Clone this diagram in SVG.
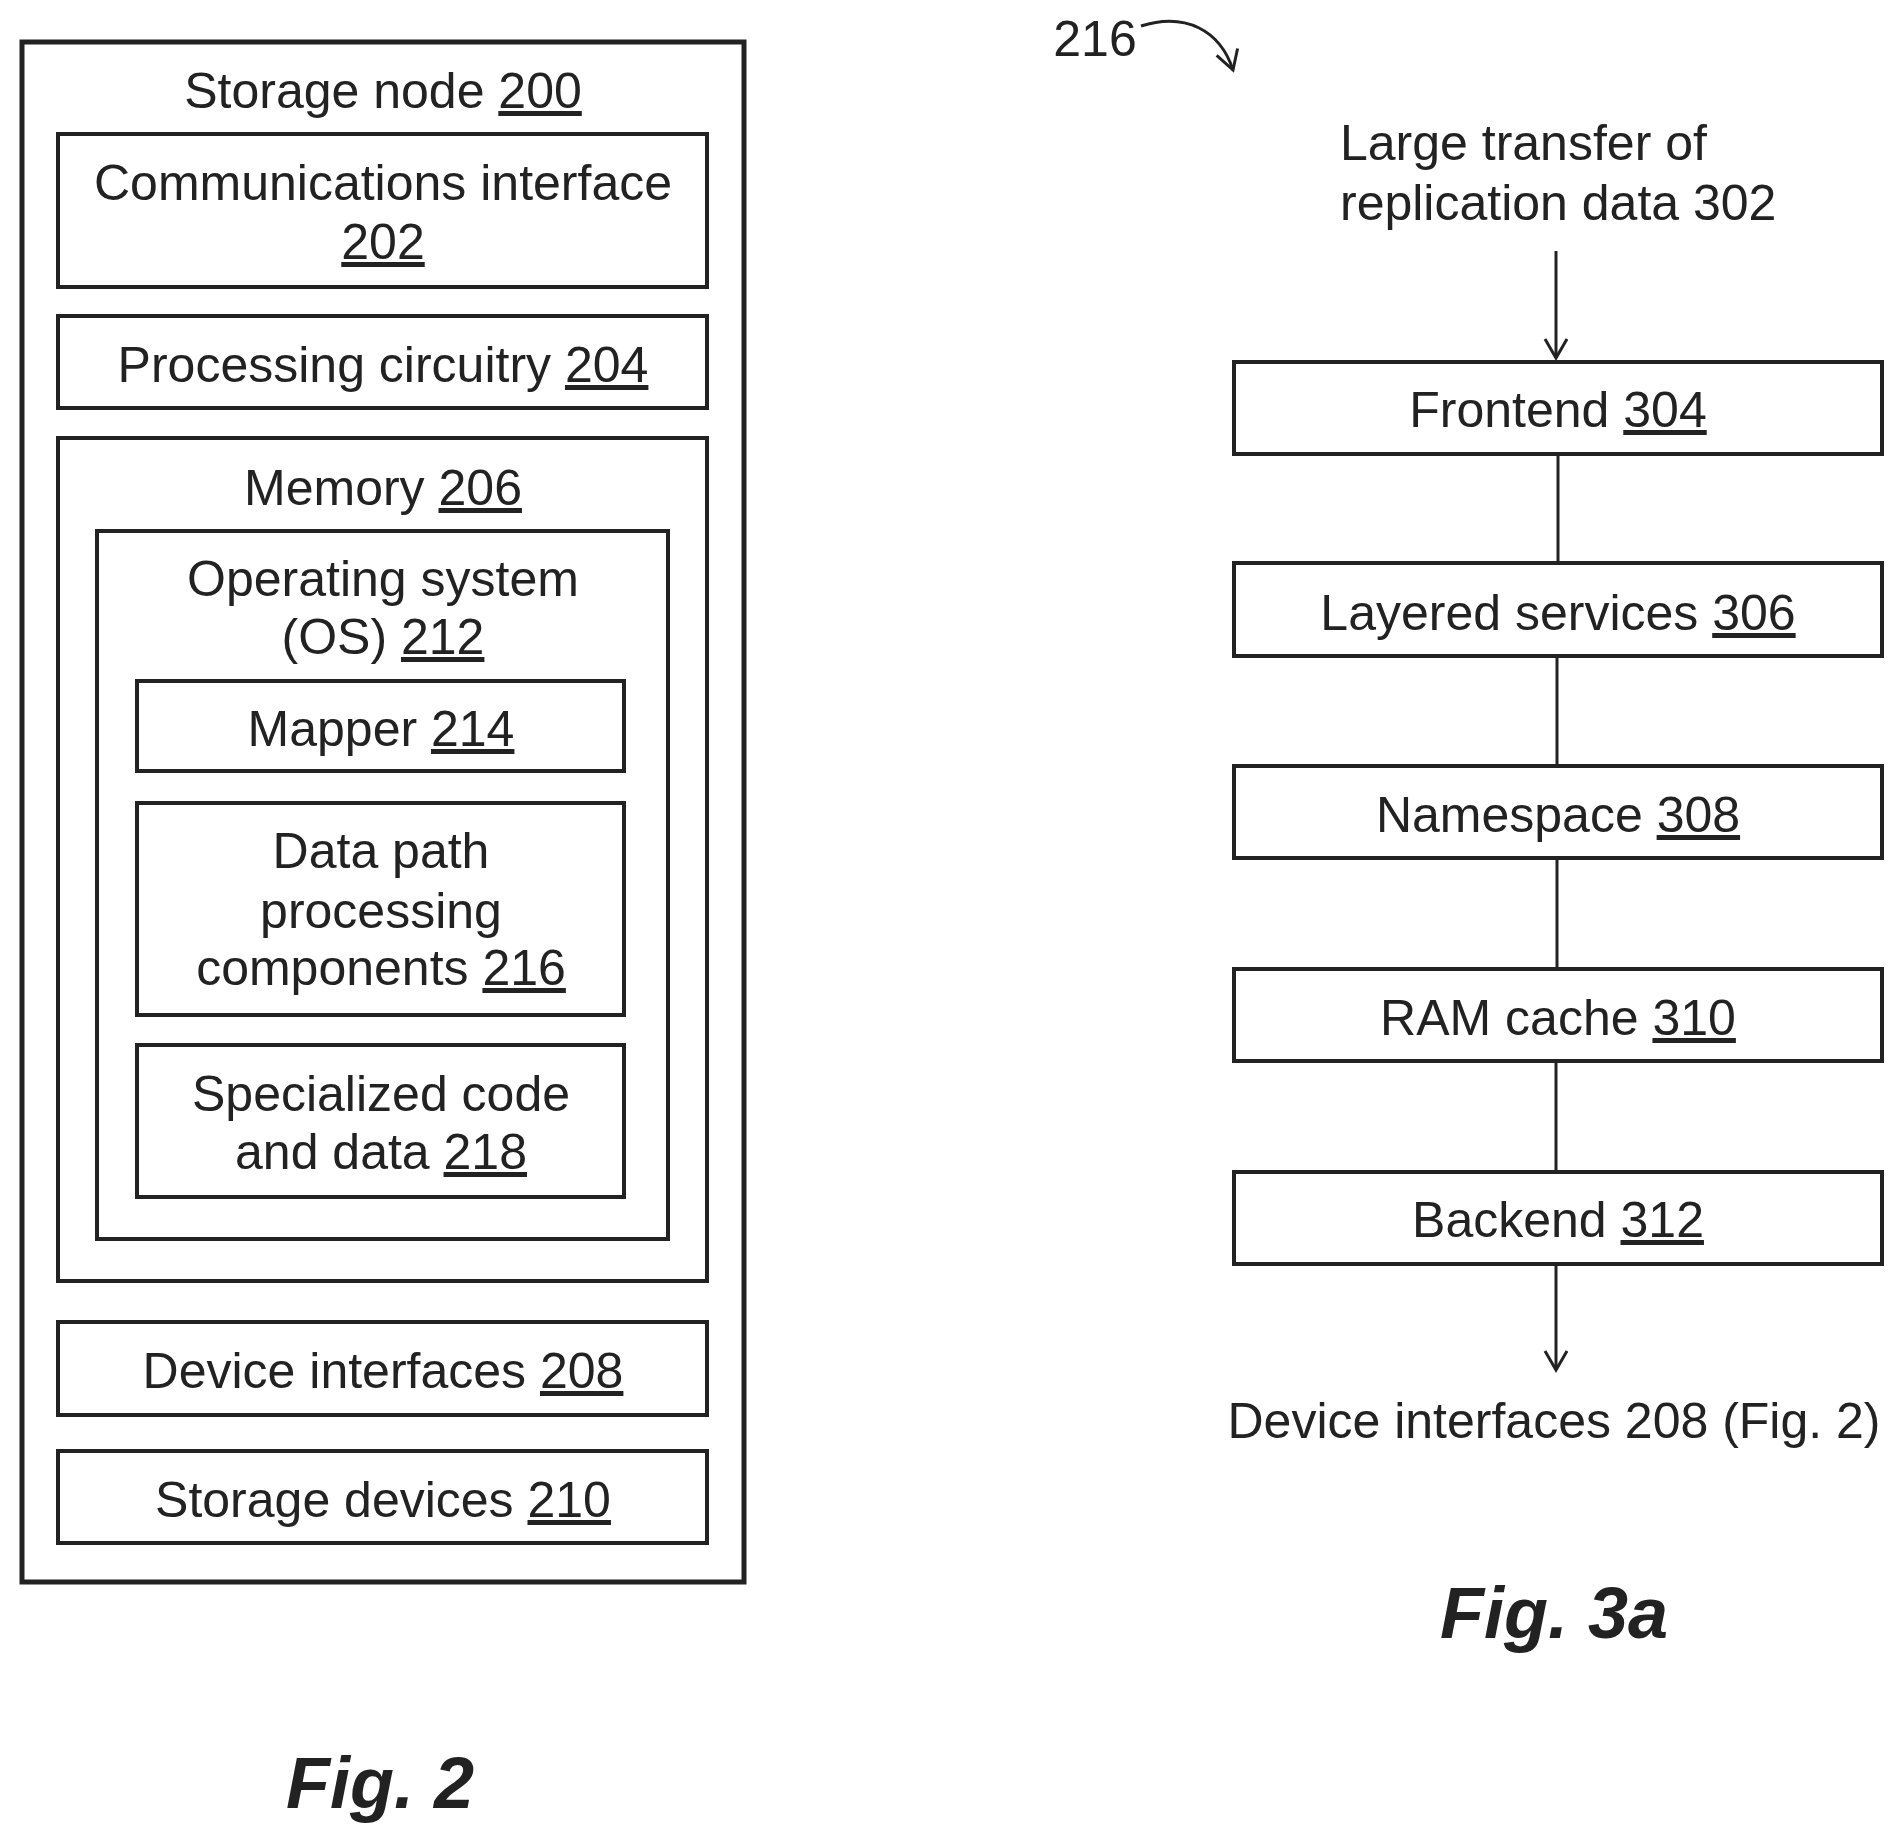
<svg xmlns="http://www.w3.org/2000/svg" width="1904" height="1847" viewBox="0 0 1904 1847">
<style>
rect{fill:none;stroke:#222;stroke-width:4}
text{font-family:"Liberation Sans",Arial,sans-serif;font-size:50px;fill:#222;text-anchor:middle}
.u{text-decoration:underline}
.fig{font-weight:bold;font-style:italic;font-size:72px}
.c{stroke:#222;stroke-width:3;fill:none}
</style>
<defs><marker id="a" markerWidth="26" markerHeight="26" refX="22" refY="12" orient="auto" markerUnits="userSpaceOnUse"><path d="M3,1 L22,12 L3,23" fill="none" stroke="#222" stroke-width="3"/></marker></defs>
<g id="n200"><rect x="22" y="42" width="722" height="1540" style="stroke-width:5"/><text x="383" y="108">Storage node <tspan class="u">200</tspan></text></g>
<g id="n202"><rect x="58" y="134" width="649" height="153"/><text x="383" y="200">Communications interface</text><text x="383" y="259" class="u">202</text></g>
<g id="n204"><rect x="58" y="316" width="649" height="92"/><text x="383" y="382">Processing circuitry <tspan class="u">204</tspan></text></g>
<g id="n206"><rect x="58" y="438" width="649" height="843"/><text x="383" y="505">Memory <tspan class="u">206</tspan></text></g>
<g id="n212"><rect x="97" y="531" width="571" height="708"/><text x="383" y="596">Operating system</text><text x="383" y="654">(OS) <tspan class="u">212</tspan></text></g>
<g id="n214"><rect x="137" y="681" width="487" height="90"/><text x="381" y="746">Mapper <tspan class="u">214</tspan></text></g>
<g id="n216"><rect x="137" y="803" width="487" height="212"/><text x="381" y="868">Data path</text><text x="381" y="928">processing</text><text x="381" y="985">components <tspan class="u">216</tspan></text></g>
<g id="n218"><rect x="137" y="1045" width="487" height="152"/><text x="381" y="1111">Specialized code</text><text x="381" y="1169">and data <tspan class="u">218</tspan></text></g>
<g id="n208"><rect x="58" y="1322" width="649" height="93"/><text x="383" y="1388">Device interfaces <tspan class="u">208</tspan></text></g>
<g id="n210"><rect x="58" y="1451" width="649" height="92"/><text x="383" y="1517">Storage devices <tspan class="u">210</tspan></text></g>
<text class="fig" x="380" y="1808">Fig. 2</text>
<g id="n304"><rect x="1234" y="362" width="648" height="92"/><text x="1558" y="427">Frontend <tspan class="u">304</tspan></text></g>
<g id="n306"><rect x="1234" y="563" width="648" height="93"/><text x="1558" y="630">Layered services <tspan class="u">306</tspan></text></g>
<g id="n308"><rect x="1234" y="766" width="648" height="92"/><text x="1558" y="832">Namespace <tspan class="u">308</tspan></text></g>
<g id="n310"><rect x="1234" y="969" width="648" height="92"/><text x="1558" y="1035">RAM cache <tspan class="u">310</tspan></text></g>
<g id="n312"><rect x="1234" y="1172" width="648" height="92"/><text x="1558" y="1237">Backend <tspan class="u">312</tspan></text></g>
<g id="connectors">
<line class="c" x1="1556" y1="251" x2="1556" y2="358" marker-end="url(#a)"/>
<line class="c" x1="1558" y1="454" x2="1558" y2="563"/>
<line class="c" x1="1557" y1="656" x2="1557" y2="766"/>
<line class="c" x1="1557" y1="858" x2="1557" y2="969"/>
<line class="c" x1="1556" y1="1061" x2="1556" y2="1172"/>
<line class="c" x1="1556" y1="1264" x2="1556" y2="1370" marker-end="url(#a)"/>
<path class="c" d="M1141,26 C1185,12 1220,30 1233,70" marker-end="url(#a)"/>
</g>
<text x="1340" y="160" style="text-anchor:start">Large transfer of</text>
<text x="1340" y="220" style="text-anchor:start">replication data 302</text>
<text x="1554" y="1438">Device interfaces 208 (Fig. 2)</text>
<text x="1095" y="56">216</text>
<text class="fig" x="1554" y="1638">Fig. 3a</text>
</svg>
